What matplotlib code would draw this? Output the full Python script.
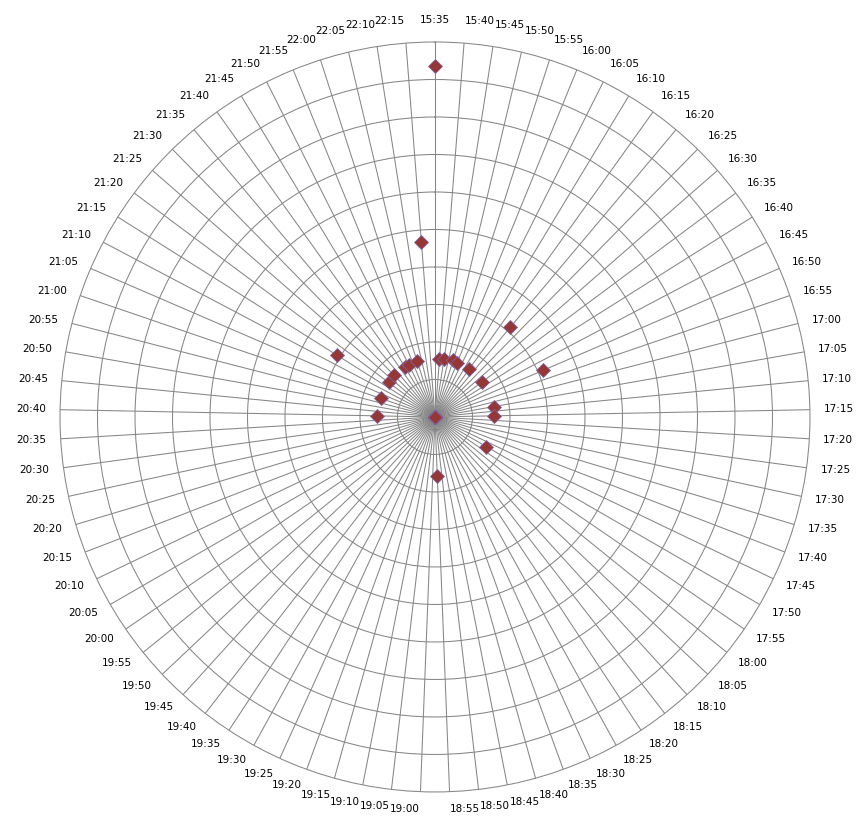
import numpy as np
import matplotlib
matplotlib.use('Agg')
import matplotlib.pyplot as plt

# categories (5 minute steps, clockwise from the top)
times = ['15:35', '15:40', '15:45', '15:50', '15:55', '16:00', '16:05', '16:10', '16:15', '16:20',
         '16:25', '16:30', '16:35', '16:40', '16:45', '16:50', '16:55', '17:00', '17:05', '17:10',
         '17:15', '17:20', '17:25', '17:30', '17:35', '17:40', '17:45', '17:50', '17:55', '18:00',
         '18:05', '18:10', '18:15', '18:20', '18:25', '18:30', '18:35', '18:40', '18:45', '18:50',
         '18:55', '19:00', '19:05', '19:10', '19:15', '19:20', '19:25', '19:30', '19:35', '19:40',
         '19:45', '19:50', '19:55', '20:00', '20:05', '20:10', '20:15', '20:20', '20:25', '20:30',
         '20:35', '20:40', '20:45', '20:50', '20:55', '21:00', '21:05', '21:10', '21:15', '21:20',
         '21:25', '21:30', '21:35', '21:40', '21:45', '21:50', '21:55', '22:00', '22:05', '22:10',
         '22:15']

# values (radial scale 0..10)
values = [9.36, 1.54, 1.56, 0, 1.59, 1.55, 0, 0, 1.57, 3.12,
          0, 0, 1.57, 0, 0, 3.13, 0, 0, 1.59, 0,
          1.58, 0, 0, 0, 0, 0, 0, 1.58, 0, 0,
          0, 0, 0, 0, 0, 0, 0, 0, 0, 0,
          1.57, 0, 0, 0, 0, 0, 0, 0, 0, 0,
          0, 0, 0, 0, 0, 0, 0, 0, 0, 0,
          0, 1.54, 0, 0, 0, 1.53, 0, 0, 3.08, 1.54,
          0, 1.55, 0, 0, 1.56, 1.54, 0, 1.56, 0, 0,
          4.67]

rmax = 10
grid_col = '#868686'

fig = plt.figure(figsize=(8.66, 8.23), dpi=100)
ax = fig.add_axes([0.0693, 0.0377, 0.866, 0.9113], projection='polar')
ax.set_theta_zero_location('N')
ax.set_theta_direction(-1)

n = len(times)
theta = np.arange(n) * 2 * np.pi / n

ax.set_xticks(theta)
ax.set_xticklabels([])
ax.set_ylim(0, rmax)
ax.set_yticks(range(1, rmax))
ax.set_yticklabels([])
ax.tick_params(length=0)
ax.grid(True, color=grid_col, lw=0.75)
ax.spines['polar'].set_color(grid_col)
ax.spines['polar'].set_linewidth(0.75)

ax.plot(theta, values, ls='none', marker='D', ms=7.5,
        mfc='#953735', mec='#8064A2', mew=0.6, clip_on=False, zorder=5)

# category labels round the outside
for t, lbl in zip(theta, times):
    s, c = np.sin(t), np.cos(t)
    dx = 14 * s
    dy = 14 * c + (8 * c ** 3 if c > 0 else 3 * c)
    if abs(s) < 0.02:
        ha = 'center'
    elif s > 0:
        ha = 'left'
    else:
        ha = 'right'
    ax.annotate(lbl, xy=(t, rmax), xytext=(dx, dy), textcoords='offset pixels',
                ha=ha, va='center', fontsize=7.5, color='black',
                annotation_clip=False)

fig.savefig('out.png', dpi=100)
